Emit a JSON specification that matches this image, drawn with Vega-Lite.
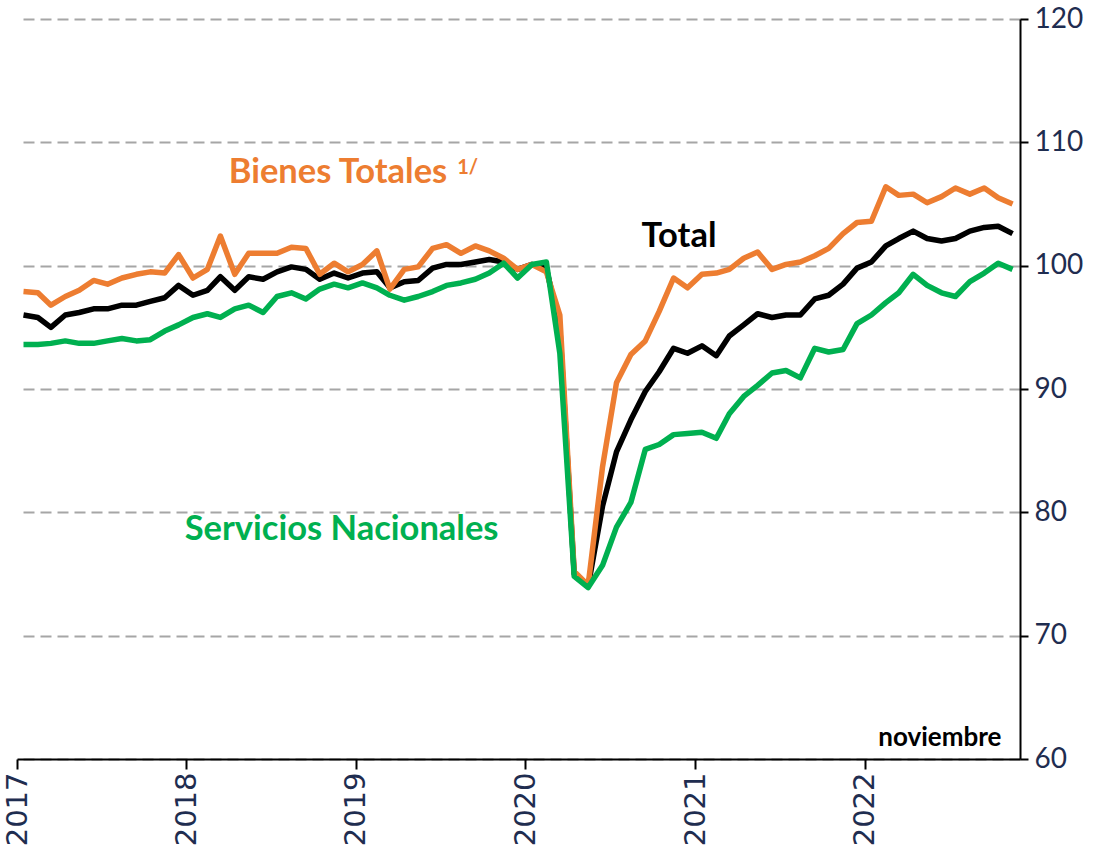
{
  "$schema": "https://vega.github.io/schema/vega-lite/v6.json",
  "width": 1003,
  "height": 740,
  "autosize": {"type": "none"},
  "padding": {"left": 17, "top": 19, "right": 87, "bottom": 92},
  "background": "white",
  "config": {"view": {"stroke": null}},
  "datasets": {
    "series": [
      {"date": "2017-01-15", "Total": 96.0, "Bienes Totales": 97.9, "Servicios Nacionales": 93.6},
      {"date": "2017-02-15", "Total": 95.8, "Bienes Totales": 97.8, "Servicios Nacionales": 93.6},
      {"date": "2017-03-15", "Total": 95.0, "Bienes Totales": 96.8, "Servicios Nacionales": 93.7},
      {"date": "2017-04-15", "Total": 96.0, "Bienes Totales": 97.5, "Servicios Nacionales": 93.9},
      {"date": "2017-05-15", "Total": 96.2, "Bienes Totales": 98.0, "Servicios Nacionales": 93.7},
      {"date": "2017-06-15", "Total": 96.5, "Bienes Totales": 98.8, "Servicios Nacionales": 93.7},
      {"date": "2017-07-15", "Total": 96.5, "Bienes Totales": 98.5, "Servicios Nacionales": 93.9},
      {"date": "2017-08-15", "Total": 96.8, "Bienes Totales": 99.0, "Servicios Nacionales": 94.1},
      {"date": "2017-09-15", "Total": 96.8, "Bienes Totales": 99.3, "Servicios Nacionales": 93.9},
      {"date": "2017-10-15", "Total": 97.1, "Bienes Totales": 99.5, "Servicios Nacionales": 94.0},
      {"date": "2017-11-15", "Total": 97.4, "Bienes Totales": 99.4, "Servicios Nacionales": 94.7},
      {"date": "2017-12-15", "Total": 98.4, "Bienes Totales": 100.9, "Servicios Nacionales": 95.2},
      {"date": "2018-01-15", "Total": 97.6, "Bienes Totales": 99.0, "Servicios Nacionales": 95.8},
      {"date": "2018-02-15", "Total": 98.0, "Bienes Totales": 99.7, "Servicios Nacionales": 96.1},
      {"date": "2018-03-15", "Total": 99.1, "Bienes Totales": 102.4, "Servicios Nacionales": 95.8},
      {"date": "2018-04-15", "Total": 98.0, "Bienes Totales": 99.3, "Servicios Nacionales": 96.5},
      {"date": "2018-05-15", "Total": 99.1, "Bienes Totales": 101.0, "Servicios Nacionales": 96.8},
      {"date": "2018-06-15", "Total": 98.9, "Bienes Totales": 101.0, "Servicios Nacionales": 96.2},
      {"date": "2018-07-15", "Total": 99.5, "Bienes Totales": 101.0, "Servicios Nacionales": 97.5},
      {"date": "2018-08-15", "Total": 99.9, "Bienes Totales": 101.5, "Servicios Nacionales": 97.8},
      {"date": "2018-09-15", "Total": 99.7, "Bienes Totales": 101.4, "Servicios Nacionales": 97.3},
      {"date": "2018-10-15", "Total": 98.9, "Bienes Totales": 99.3, "Servicios Nacionales": 98.1},
      {"date": "2018-11-15", "Total": 99.4, "Bienes Totales": 100.2, "Servicios Nacionales": 98.5},
      {"date": "2018-12-15", "Total": 99.0, "Bienes Totales": 99.5, "Servicios Nacionales": 98.2},
      {"date": "2019-01-15", "Total": 99.4, "Bienes Totales": 100.1, "Servicios Nacionales": 98.6},
      {"date": "2019-02-15", "Total": 99.5, "Bienes Totales": 101.2, "Servicios Nacionales": 98.2},
      {"date": "2019-03-15", "Total": 98.2, "Bienes Totales": 98.1, "Servicios Nacionales": 97.6},
      {"date": "2019-04-15", "Total": 98.7, "Bienes Totales": 99.7, "Servicios Nacionales": 97.2},
      {"date": "2019-05-15", "Total": 98.8, "Bienes Totales": 99.9, "Servicios Nacionales": 97.5},
      {"date": "2019-06-15", "Total": 99.8, "Bienes Totales": 101.4, "Servicios Nacionales": 97.9},
      {"date": "2019-07-15", "Total": 100.1, "Bienes Totales": 101.7, "Servicios Nacionales": 98.4},
      {"date": "2019-08-15", "Total": 100.1, "Bienes Totales": 101.0, "Servicios Nacionales": 98.6},
      {"date": "2019-09-15", "Total": 100.3, "Bienes Totales": 101.6, "Servicios Nacionales": 98.9},
      {"date": "2019-10-15", "Total": 100.5, "Bienes Totales": 101.2, "Servicios Nacionales": 99.4},
      {"date": "2019-11-15", "Total": 100.3, "Bienes Totales": 100.6, "Servicios Nacionales": 100.2},
      {"date": "2019-12-15", "Total": 99.7, "Bienes Totales": 99.7, "Servicios Nacionales": 99.0},
      {"date": "2020-01-15", "Total": 100.1, "Bienes Totales": 100.1, "Servicios Nacionales": 100.1},
      {"date": "2020-02-15", "Total": 99.8, "Bienes Totales": 99.5, "Servicios Nacionales": 100.3},
      {"date": "2020-03-15", "Total": 95.0, "Bienes Totales": 96.0, "Servicios Nacionales": 92.9},
      {"date": "2020-04-15", "Total": 75.0, "Bienes Totales": 75.2, "Servicios Nacionales": 74.8},
      {"date": "2020-05-15", "Total": 74.0, "Bienes Totales": 74.1, "Servicios Nacionales": 73.9},
      {"date": "2020-06-15", "Total": 80.5, "Bienes Totales": 83.7, "Servicios Nacionales": 75.7},
      {"date": "2020-07-15", "Total": 84.9, "Bienes Totales": 90.5, "Servicios Nacionales": 78.8},
      {"date": "2020-08-15", "Total": 87.5, "Bienes Totales": 92.8, "Servicios Nacionales": 80.8},
      {"date": "2020-09-15", "Total": 89.8, "Bienes Totales": 93.9, "Servicios Nacionales": 85.1},
      {"date": "2020-10-15", "Total": 91.4, "Bienes Totales": 96.3, "Servicios Nacionales": 85.5},
      {"date": "2020-11-15", "Total": 93.3, "Bienes Totales": 99.0, "Servicios Nacionales": 86.3},
      {"date": "2020-12-15", "Total": 92.9, "Bienes Totales": 98.2, "Servicios Nacionales": 86.4},
      {"date": "2021-01-15", "Total": 93.5, "Bienes Totales": 99.3, "Servicios Nacionales": 86.5},
      {"date": "2021-02-15", "Total": 92.7, "Bienes Totales": 99.4, "Servicios Nacionales": 86.0},
      {"date": "2021-03-15", "Total": 94.3, "Bienes Totales": 99.7, "Servicios Nacionales": 88.0},
      {"date": "2021-04-15", "Total": 95.2, "Bienes Totales": 100.6, "Servicios Nacionales": 89.4},
      {"date": "2021-05-15", "Total": 96.1, "Bienes Totales": 101.1, "Servicios Nacionales": 90.3},
      {"date": "2021-06-15", "Total": 95.8, "Bienes Totales": 99.7, "Servicios Nacionales": 91.3},
      {"date": "2021-07-15", "Total": 96.0, "Bienes Totales": 100.1, "Servicios Nacionales": 91.5},
      {"date": "2021-08-15", "Total": 96.0, "Bienes Totales": 100.3, "Servicios Nacionales": 90.9},
      {"date": "2021-09-15", "Total": 97.3, "Bienes Totales": 100.8, "Servicios Nacionales": 93.3},
      {"date": "2021-10-15", "Total": 97.6, "Bienes Totales": 101.4, "Servicios Nacionales": 93.0},
      {"date": "2021-11-15", "Total": 98.5, "Bienes Totales": 102.6, "Servicios Nacionales": 93.2},
      {"date": "2021-12-15", "Total": 99.8, "Bienes Totales": 103.5, "Servicios Nacionales": 95.3},
      {"date": "2022-01-15", "Total": 100.3, "Bienes Totales": 103.6, "Servicios Nacionales": 96.0},
      {"date": "2022-02-15", "Total": 101.6, "Bienes Totales": 106.4, "Servicios Nacionales": 97.0},
      {"date": "2022-03-15", "Total": 102.2, "Bienes Totales": 105.7, "Servicios Nacionales": 97.8},
      {"date": "2022-04-15", "Total": 102.8, "Bienes Totales": 105.8, "Servicios Nacionales": 99.3},
      {"date": "2022-05-15", "Total": 102.2, "Bienes Totales": 105.1, "Servicios Nacionales": 98.4},
      {"date": "2022-06-15", "Total": 102.0, "Bienes Totales": 105.6, "Servicios Nacionales": 97.8},
      {"date": "2022-07-15", "Total": 102.2, "Bienes Totales": 106.3, "Servicios Nacionales": 97.5},
      {"date": "2022-08-15", "Total": 102.8, "Bienes Totales": 105.8, "Servicios Nacionales": 98.7},
      {"date": "2022-09-15", "Total": 103.1, "Bienes Totales": 106.3, "Servicios Nacionales": 99.4},
      {"date": "2022-10-15", "Total": 103.2, "Bienes Totales": 105.5, "Servicios Nacionales": 100.2},
      {"date": "2022-11-15", "Total": 102.6, "Bienes Totales": 105.0, "Servicios Nacionales": 99.7}
    ],
    "labels": [
      {"date": "2018-04-02", "value": 107.5, "text": "Bienes Totales", "serie": "Bienes Totales"},
      {"date": "2020-09-07", "value": 102.3, "text": "Total", "serie": "Total"},
      {"date": "2017-12-28", "value": 78.6, "text": "Servicios Nacionales", "serie": "Servicios Nacionales"}
    ],
    "superscript": [
      {"date": "2019-08-07", "value": 107.9, "text": "1/"}
    ],
    "note": [
      {"date": "2022-10-22", "value": 61.7, "text": "noviembre"}
    ]
  },
  "layer": [
    {
      "data": {"name": "series"},
      "transform": [
        {"fold": ["Total", "Bienes Totales", "Servicios Nacionales"], "as": ["serie", "valor"]}
      ],
      "mark": {"type": "line", "strokeWidth": 5.5, "strokeJoin": "round"},
      "encoding": {
        "x": {
          "field": "date",
          "type": "temporal",
          "scale": {
            "type": "utc",
            "domain": [
              {"year": 2017, "month": 1, "date": 1, "utc": true},
              {"year": 2022, "month": 12, "date": 1, "utc": true}
            ]
          },
          "axis": {
            "orient": "bottom",
            "title": null,
            "grid": false,
            "domain": true,
            "domainColor": "#000000",
            "domainWidth": 2,
            "ticks": true,
            "tickColor": "#000000",
            "tickWidth": 2,
            "tickSize": 10,
            "tickCount": {"interval": "year", "step": 1},
            "format": "%Y",
            "labelAngle": -90,
            "labelFont": "DejaVu Sans",
            "labelFontSize": 29,
            "labelColor": "#1F2D50",
            "labelPadding": 3,
            "labelFlush": false,
            "labelOverlap": false
          }
        },
        "y": {
          "field": "valor",
          "type": "quantitative",
          "scale": {"domain": [60, 120], "nice": false, "zero": false},
          "axis": {
            "orient": "right",
            "title": null,
            "values": [60, 70, 80, 90, 100, 110, 120],
            "domain": true,
            "domainColor": "#000000",
            "domainWidth": 2,
            "ticks": true,
            "tickColor": "#000000",
            "tickWidth": 2,
            "tickSize": 8,
            "grid": true,
            "gridColor": "#A6A6A6",
            "gridDash": [11, 6],
            "gridWidth": 2,
            "labelFont": "Lato",
            "labelFontSize": 28,
            "labelColor": "#1F2D50",
            "labelPadding": 6
          }
        },
        "color": {
          "field": "serie",
          "type": "nominal",
          "scale": {
            "domain": ["Total", "Bienes Totales", "Servicios Nacionales"],
            "range": ["#000000", "#ED7D31", "#00B050"]
          },
          "legend": null
        }
      }
    },
    {
      "data": {"name": "labels"},
      "mark": {"type": "text", "font": "Lato", "fontWeight": "bold", "fontSize": 34.5, "align": "left", "baseline": "middle"},
      "encoding": {
        "x": {"field": "date", "type": "temporal"},
        "y": {"field": "value", "type": "quantitative"},
        "text": {"field": "text"},
        "color": {"field": "serie", "type": "nominal", "legend": null}
      }
    },
    {
      "data": {"name": "superscript"},
      "mark": {"type": "text", "font": "Lato", "fontWeight": "bold", "fontSize": 20, "align": "left", "baseline": "middle", "color": "#ED7D31"},
      "encoding": {
        "x": {"field": "date", "type": "temporal"},
        "y": {"field": "value", "type": "quantitative"},
        "text": {"field": "text"}
      }
    },
    {
      "data": {"name": "note"},
      "mark": {"type": "text", "font": "Lato", "fontWeight": "bold", "fontSize": 26, "align": "right", "baseline": "middle", "color": "#000000"},
      "encoding": {
        "x": {"field": "date", "type": "temporal"},
        "y": {"field": "value", "type": "quantitative"},
        "text": {"field": "text"}
      }
    }
  ]
}
